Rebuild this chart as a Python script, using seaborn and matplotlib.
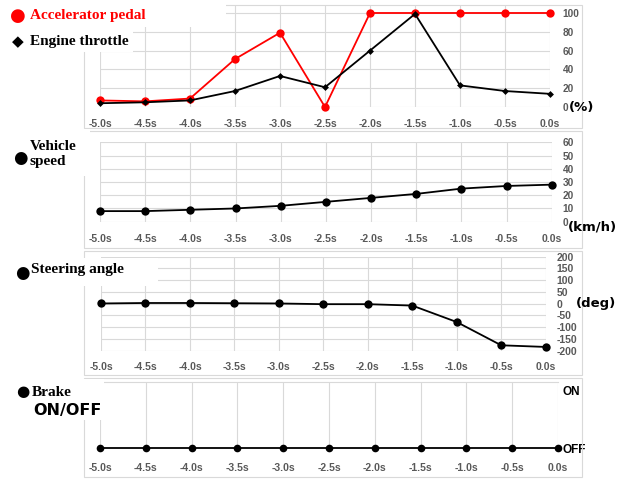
import matplotlib
matplotlib.use("Agg")
import matplotlib.pyplot as plt
from matplotlib.patches import Rectangle
import pandas as pd
import seaborn as sns

# Time axis (seconds before event)
times = [-5.0, -4.5, -4.0, -3.5, -3.0, -2.5, -2.0, -1.5, -1.0, -0.5, 0.0]
time_labels = ["-5.0s", "-4.5s", "-4.0s", "-3.5s", "-3.0s", "-2.5s",
               "-2.0s", "-1.5s", "-1.0s", "-0.5s", "0.0s"]

# Series
accel_pedal = [7, 6, 9, 51, 79, 0, 100, 100, 100, 100, 100]
engine_throttle = [4, 5, 7, 17, 33, 21, 60, 99, 23, 17, 14]
vehicle_speed = [8, 8, 9, 10, 12, 15, 18, 21, 25, 27, 28]
steering_angle = [1, 3, 3, 2, 1, -2, -2, -8, -78, -177, -184]
brake = [0, 0, 0, 0, 0, 0, 0, 0, 0, 0, 0]

pct_ticks = [0, 20, 40, 60, 80, 100]
speed_ticks = [0, 10, 20, 30, 40, 50, 60]
deg_ticks = [-200, -150, -100, -50, 0, 50, 100, 150, 200]
brake_ticks = [0, 1]
brake_labels = ["OFF", "ON"]

W, H = 635, 479
GRID = "#D9D9D9"
TICK = "#595959"
TICKFONT = ["Liberation Sans", "DejaVu Sans"]

sns.set_style("white")
plt.rcParams["font.family"] = ["DejaVu Sans"]
plt.rcParams["axes.unicode_minus"] = False


def px_box(left, top, right, bottom):
    """Pixel box -> figure fraction [l, b, w, h]."""
    return [left / W, 1 - bottom / H, (right - left) / W, (bottom - top) / H]


def style_axis(ax, xpad, ypad, ylabsize=7.3, hgrid=True):
    ax.set_xlim(-5, 0)
    ax.set_xticks(times)
    ax.set_xticklabels(time_labels)
    ax.yaxis.tick_right()
    ax.tick_params(axis="x", length=0, pad=xpad, labelsize=7.5, labelcolor=TICK)
    ax.tick_params(axis="y", length=0, pad=ypad, labelsize=ylabsize, labelcolor=TICK)
    for lab in ax.get_xticklabels() + ax.get_yticklabels():
        lab.set_fontweight("bold")
        lab.set_family(TICKFONT)
    for s in ax.spines.values():
        s.set_visible(False)
    ax.grid(True, axis="x", color=GRID, lw=0.8)
    if hgrid:
        ax.grid(True, axis="y", color=GRID, lw=0.8)
    ax.set_axisbelow(True)
    ax.set_xlabel("")
    ax.set_ylabel("")


df = pd.DataFrame({"t": times, "accel": accel_pedal, "throttle": engine_throttle,
                   "speed": vehicle_speed, "steer": steering_angle, "brake": brake})

fig = plt.figure(figsize=(W / 100, H / 100), dpi=100)

# Panel 1: pedal / throttle
ax1 = fig.add_axes(px_box(100, 5, 550, 107))
sns.lineplot(data=df, x="t", y="accel", ax=ax1, color="#FF0000", marker="o",
             markersize=6, markeredgewidth=0, linewidth=1.3, clip_on=False)
sns.lineplot(data=df, x="t", y="throttle", ax=ax1, color="black", marker="D",
             markersize=3.5, markeredgewidth=0, linewidth=1.3, clip_on=False)
ax1.set_ylim(0, 108.5)
ax1.set_yticks(pct_ticks)
style_axis(ax1, xpad=8.5, ypad=9)

# Panel 2: vehicle speed
ax2 = fig.add_axes(px_box(100, 142.3, 551.7, 221.7))
sns.lineplot(data=df, x="t", y="speed", ax=ax2, color="black", marker="o",
             markersize=6, markeredgewidth=0, linewidth=1.3, clip_on=False)
ax2.set_ylim(0, 60)
ax2.set_yticks(speed_ticks)
style_axis(ax2, xpad=8.5, ypad=8)

# Panel 3: steering angle
ax3 = fig.add_axes(px_box(101, 256.7, 545.7, 350.7))
sns.lineplot(data=df, x="t", y="steer", ax=ax3, color="black", marker="o",
             markersize=6, markeredgewidth=0, linewidth=1.3, clip_on=False)
ax3.set_ylim(-200, 200)
ax3.set_yticks(deg_ticks)
style_axis(ax3, xpad=8, ypad=8, ylabsize=7.5)

# Panel 4: brake
ax4 = fig.add_axes(px_box(100, 382, 558, 448.3))
sns.lineplot(data=df, x="t", y="brake", ax=ax4, color="black", marker="o",
             markersize=5.5, markeredgewidth=0, linewidth=1.3, clip_on=False)
ax4.set_ylim(0, 1.14)
ax4.set_yticks(brake_ticks)
style_axis(ax4, xpad=10.5, ypad=3.5, hgrid=False)
ax4.set_yticklabels(brake_labels, fontsize=8.5, fontweight="bold", color="black")
ax4.spines["top"].set_visible(True)
ax4.spines["top"].set_color(GRID)

# Chart-area frames
for top, bottom in [(5, 128), (131, 248), (251, 375), (378, 477)]:
    fig.add_artist(Rectangle((84 / W, 1 - bottom / H), (582 - 84) / W, (bottom - top) / H,
                             transform=fig.transFigure, fill=False, ec=GRID,
                             lw=0.8, zorder=1))

# White label backgrounds
for l, t, r, b in [(0, 0, 226, 27), (0, 27, 133, 52), (0, 129, 90, 176),
                   (0, 258, 158, 286), (0, 379, 104, 420)]:
    fig.add_artist(Rectangle((l / W, 1 - b / H), (r - l) / W, (b - t) / H,
                             transform=fig.transFigure, fc="white", ec="none",
                             zorder=2))


def ftext(x, y, s, **kw):
    fig.text(x / W, 1 - y / H, s, va="center", ha="left", zorder=3, **kw)


serif = dict(family=["Liberation Serif", "DejaVu Serif"], fontweight="bold")
ftext(10, 16, "\u25CF", color="#FF0000", fontsize=13)
ftext(30, 15, "Accelerator pedal", color="#FF0000", fontsize=11, **serif)
ftext(12, 42, "\u25C6", color="black", fontsize=11)
ftext(30, 41, "Engine throttle", color="black", fontsize=11, **serif)

ftext(13, 158, "\u25CF", color="black", fontsize=12)
ftext(30, 146.5, "Vehicle", color="black", fontsize=11, **serif)
ftext(30, 161.5, "speed", color="black", fontsize=11, **serif)

ftext(15, 273, "\u25CF", color="black", fontsize=12)
ftext(31, 270, "Steering angle", color="black", fontsize=11, **serif)

ftext(16, 392, "\u25CF", color="black", fontsize=11)
ftext(32, 392, "Brake", color="black", fontsize=11, **serif)
ftext(33, 411, "ON/OFF", color="black", fontsize=11.5, fontweight="bold")

ftext(569, 107.5, "(%)", color="black", fontsize=9.5, fontweight="bold")
ftext(568, 226.7, "(km/h)", color="black", fontsize=9.5, fontweight="bold")
ftext(576, 303.3, "(deg)", color="black", fontsize=9.5, fontweight="bold")

fig.savefig("out.png", dpi=100)
